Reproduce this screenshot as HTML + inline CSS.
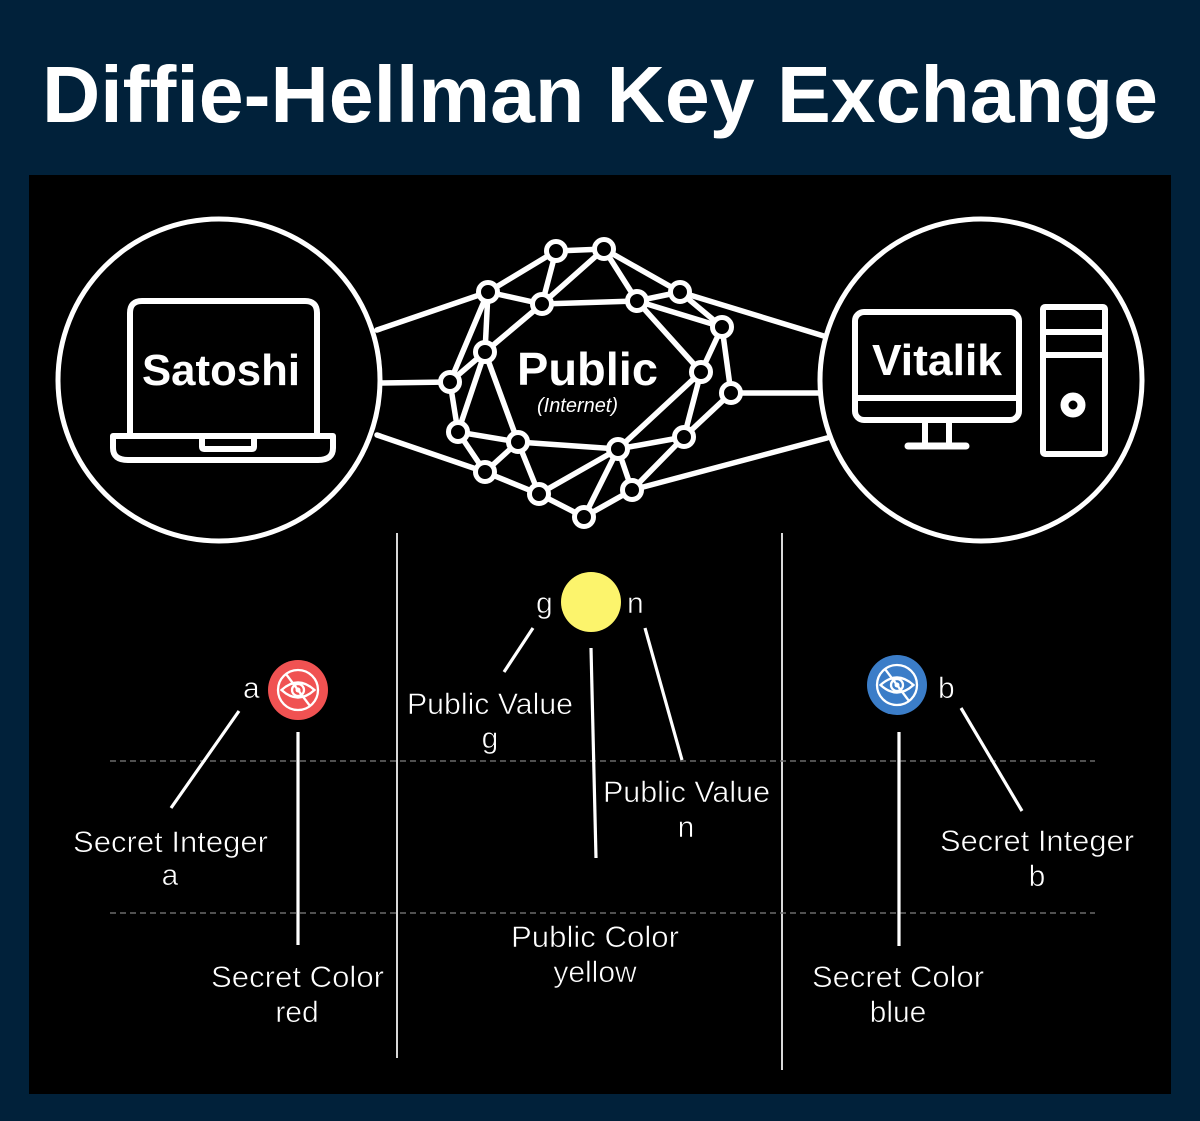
<!DOCTYPE html>
<html>
<head>
<meta charset="utf-8">
<style>
  html, body { margin: 0; padding: 0; background: #01213a; }
  svg { display: block; }
  .t { font-family: "Liberation Sans", Arial, sans-serif; fill: #fff; }
  .lt { font-family: "Liberation Sans", Arial, sans-serif; fill: #fff; font-size: 30px; stroke: #000; stroke-width: 0.6px; }
</style>
</head>
<body>
<svg width="1200" height="1121" viewBox="0 0 1200 1121" xmlns="http://www.w3.org/2000/svg">
  <rect x="0" y="0" width="1200" height="1121" fill="#01213a"/>
  <text class="t" x="42" y="122" font-size="80" font-weight="bold" textLength="1116" lengthAdjust="spacingAndGlyphs">Diffie-Hellman Key Exchange</text>

  <rect x="29" y="175" width="1142" height="919" fill="#000"/>

  <!-- Network edges -->
  <g stroke="#fff" stroke-width="5.5" stroke-linecap="round" fill="none">
    <!-- external connectors -->
    <line x1="377" y1="330" x2="488" y2="292"/>
    <line x1="380" y1="383" x2="450" y2="382"/>
    <line x1="377" y1="435" x2="485" y2="472"/>
    <line x1="680" y1="292" x2="827" y2="337"/>
    <line x1="731" y1="393" x2="827" y2="393"/>
    <line x1="632" y1="490" x2="827" y2="438"/>
    <!-- mesh -->
    <line x1="556" y1="251" x2="604" y2="249"/>
    <line x1="556" y1="251" x2="488" y2="292"/>
    <line x1="556" y1="251" x2="542" y2="304"/>
    <line x1="604" y1="249" x2="542" y2="304"/>
    <line x1="604" y1="249" x2="637" y2="301"/>
    <line x1="604" y1="249" x2="680" y2="292"/>
    <line x1="488" y1="292" x2="542" y2="304"/>
    <line x1="488" y1="292" x2="485" y2="352"/>
    <line x1="488" y1="292" x2="450" y2="382"/>
    <line x1="542" y1="304" x2="637" y2="301"/>
    <line x1="542" y1="304" x2="485" y2="352"/>
    <line x1="637" y1="301" x2="680" y2="292"/>
    <line x1="637" y1="301" x2="722" y2="327"/>
    <line x1="637" y1="301" x2="701" y2="372"/>
    <line x1="680" y1="292" x2="722" y2="327"/>
    <line x1="722" y1="327" x2="701" y2="372"/>
    <line x1="722" y1="327" x2="731" y2="393"/>
    <line x1="485" y1="352" x2="450" y2="382"/>
    <line x1="485" y1="352" x2="458" y2="432"/>
    <line x1="485" y1="352" x2="518" y2="442"/>
    <line x1="450" y1="382" x2="458" y2="432"/>
    <line x1="701" y1="372" x2="618" y2="449"/>
    <line x1="701" y1="372" x2="684" y2="437"/>
    <line x1="731" y1="393" x2="684" y2="437"/>
    <line x1="458" y1="432" x2="518" y2="442"/>
    <line x1="458" y1="432" x2="485" y2="472"/>
    <line x1="518" y1="442" x2="618" y2="449"/>
    <line x1="518" y1="442" x2="485" y2="472"/>
    <line x1="518" y1="442" x2="539" y2="494"/>
    <line x1="618" y1="449" x2="684" y2="437"/>
    <line x1="618" y1="449" x2="539" y2="494"/>
    <line x1="618" y1="449" x2="632" y2="490"/>
    <line x1="618" y1="449" x2="584" y2="517"/>
    <line x1="684" y1="437" x2="632" y2="490"/>
    <line x1="485" y1="472" x2="539" y2="494"/>
    <line x1="539" y1="494" x2="584" y2="517"/>
    <line x1="632" y1="490" x2="584" y2="517"/>
  </g>
  <!-- Network nodes -->
  <g fill="#000" stroke="#fff" stroke-width="5">
    <circle cx="556" cy="251" r="9.5"/>
    <circle cx="604" cy="249" r="9.5"/>
    <circle cx="488" cy="292" r="9.5"/>
    <circle cx="542" cy="304" r="9.5"/>
    <circle cx="637" cy="301" r="9.5"/>
    <circle cx="680" cy="292" r="9.5"/>
    <circle cx="722" cy="327" r="9.5"/>
    <circle cx="485" cy="352" r="9.5"/>
    <circle cx="450" cy="382" r="9.5"/>
    <circle cx="701" cy="372" r="9.5"/>
    <circle cx="731" cy="393" r="9.5"/>
    <circle cx="458" cy="432" r="9.5"/>
    <circle cx="518" cy="442" r="9.5"/>
    <circle cx="618" cy="449" r="9.5"/>
    <circle cx="684" cy="437" r="9.5"/>
    <circle cx="485" cy="472" r="9.5"/>
    <circle cx="539" cy="494" r="9.5"/>
    <circle cx="632" cy="490" r="9.5"/>
    <circle cx="584" cy="517" r="9.5"/>
  </g>
  <text class="t" x="517" y="385" font-size="46" font-weight="bold" textLength="141" lengthAdjust="spacingAndGlyphs">Public</text>
  <text class="t" x="537" y="412" font-size="20" font-style="italic" textLength="81" lengthAdjust="spacingAndGlyphs">(Internet)</text>

  <!-- Left circle: Satoshi laptop -->
  <circle cx="219" cy="380" r="161" fill="#000" stroke="#fff" stroke-width="5"/>
  <g fill="none" stroke="#fff" stroke-width="6" stroke-linejoin="round">
    <path d="M130,433 L130,313 Q130,301 142,301 L305,301 Q317,301 317,313 L317,433"/>
    <path d="M113,436 L333,436 L333,448 Q333,460 318,460 L128,460 Q113,460 113,448 Z"/>
    <path d="M202,436 L202,447 Q202,449 204,449 L252,449 Q254,449 254,447 L254,436"/>
  </g>
  <text class="t" x="142" y="385" font-size="44" font-weight="bold" textLength="158" lengthAdjust="spacingAndGlyphs">Satoshi</text>

  <!-- Right circle: Vitalik desktop -->
  <circle cx="981" cy="380" r="161" fill="#000" stroke="#fff" stroke-width="5"/>
  <g fill="none" stroke="#fff" stroke-width="6" stroke-linejoin="round">
    <rect x="855" y="312" width="164" height="108" rx="9" ry="9"/>
    <line x1="855" y1="398" x2="1019" y2="398"/>
    <line x1="925" y1="420" x2="925" y2="444"/>
    <line x1="949" y1="420" x2="949" y2="444"/>
    <line x1="908" y1="446" x2="966" y2="446" stroke-width="7" stroke-linecap="round"/>
    <rect x="1043" y="307" width="62" height="147" rx="2" ry="2"/>
    <line x1="1043" y1="332" x2="1105" y2="332"/>
    <line x1="1043" y1="355" x2="1105" y2="355"/>
    <circle cx="1073" cy="405" r="8.5" stroke-width="8"/>
  </g>
  <text class="t" x="872" y="375" font-size="44" font-weight="bold" textLength="130" lengthAdjust="spacingAndGlyphs">Vitalik</text>

  <!-- Dividers -->
  <line x1="397" y1="533" x2="397" y2="1058" stroke="#d8d8d8" stroke-width="2"/>
  <line x1="782" y1="533" x2="782" y2="1070" stroke="#d8d8d8" stroke-width="2"/>
  <!-- Dashed lines -->
  <line x1="110" y1="761" x2="1095" y2="761" stroke="#6a6a6a" stroke-width="1.5" stroke-dasharray="6,4"/>
  <line x1="110" y1="913" x2="1095" y2="913" stroke="#6a6a6a" stroke-width="1.5" stroke-dasharray="6,4"/>

  <!-- Connector lines lower -->
  <g stroke="#fff" stroke-width="3.2" stroke-linecap="butt">
    <line x1="239" y1="711" x2="171" y2="808"/>
    <line x1="298" y1="732" x2="298" y2="945"/>
    <line x1="533" y1="628" x2="504" y2="672"/>
    <line x1="591" y1="648" x2="596" y2="858"/>
    <line x1="645" y1="628" x2="682" y2="760"/>
    <line x1="899" y1="732" x2="899" y2="946"/>
    <line x1="961" y1="708" x2="1022" y2="811"/>
  </g>

  <!-- Yellow circle -->
  <circle cx="591" cy="602" r="30" fill="#fcf46c"/>
  <text class="lt" x="536" y="613" font-size="31">g</text>
  <text class="lt" x="627" y="613" font-size="31">n</text>

  <!-- Red eye icon -->
  <g transform="translate(298,690)">
    <circle r="30" fill="#f05252"/>
    <g fill="none" stroke="#fff" stroke-width="2.3">
      <circle r="20"/>
      <path d="M-16.5,0 Q0,-15 16.5,0 Q0,15 -16.5,0 Z"/>
      <circle r="6"/>
      <line x1="-12" y1="-16" x2="12" y2="16"/>
    </g>
    <circle r="2.5" fill="#fff"/>
  </g>
  <text class="lt" x="243" y="698" font-size="31">a</text>

  <!-- Blue eye icon -->
  <g transform="translate(897,685)">
    <circle r="30" fill="#3b7dc8"/>
    <g fill="none" stroke="#fff" stroke-width="2.3">
      <circle r="20"/>
      <path d="M-16.5,0 Q0,-15 16.5,0 Q0,15 -16.5,0 Z"/>
      <circle r="6"/>
      <line x1="-12" y1="-16" x2="12" y2="16"/>
    </g>
    <circle r="2.5" fill="#fff"/>
  </g>
  <text class="lt" x="938" y="698" font-size="31">b</text>

  <!-- Labels -->
  <text class="lt" x="407" y="714" textLength="166" lengthAdjust="spacingAndGlyphs">Public Value</text>
  <text class="lt" x="490" y="748" text-anchor="middle">g</text>

  <text class="lt" x="603" y="802" textLength="167" lengthAdjust="spacingAndGlyphs">Public Value</text>
  <text class="lt" x="686" y="837" text-anchor="middle">n</text>

  <text class="lt" x="73" y="852" textLength="195" lengthAdjust="spacingAndGlyphs">Secret Integer</text>
  <text class="lt" x="170" y="885" text-anchor="middle">a</text>

  <text class="lt" x="211" y="987" textLength="173" lengthAdjust="spacingAndGlyphs">Secret Color</text>
  <text class="lt" x="297" y="1022" text-anchor="middle">red</text>

  <text class="lt" x="511" y="947" textLength="168" lengthAdjust="spacingAndGlyphs">Public Color</text>
  <text class="lt" x="595" y="982" text-anchor="middle">yellow</text>

  <text class="lt" x="940" y="851" textLength="194" lengthAdjust="spacingAndGlyphs">Secret Integer</text>
  <text class="lt" x="1037" y="886" text-anchor="middle">b</text>

  <text class="lt" x="812" y="987" textLength="172" lengthAdjust="spacingAndGlyphs">Secret Color</text>
  <text class="lt" x="898" y="1022" text-anchor="middle">blue</text>
</svg>
</body>
</html>
